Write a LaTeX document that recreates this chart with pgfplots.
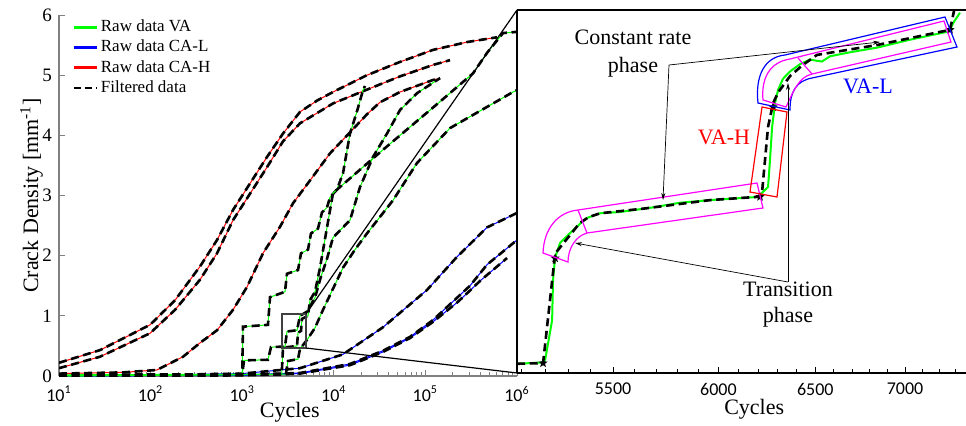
\documentclass[border=0pt]{standalone}
\usepackage{fontspec}
\setmainfont{Liberation Serif}
\newfontfamily\carlito{Carlito}
\usepackage{pgfplots}
\usepackage{pgfplotstable}
\pgfplotsset{compat=1.18}
\usetikzlibrary{arrows.meta,shapes.geometric}

\definecolor{rawgreen}{RGB}{0,255,0}
\definecolor{rawblue}{RGB}{0,0,255}
\definecolor{rawred}{RGB}{255,0,0}
\definecolor{mag}{RGB}{255,0,255}
\definecolor{axgray}{RGB}{128,128,128}

\pgfdeclareplotmark{fstar}{\node[star,star points=5,star point ratio=2.3,fill=black,draw=none,inner sep=0pt,minimum size=2.2\pgfplotmarksize]{};}

\pgfplotsset{
  raw/.style={line width=0.5pt, forget plot},
  filt/.style={black, line width=1.3pt, dash pattern=on 4pt off 2.3pt, forget plot},
}

% CA-H
\pgfplotstableread{
x y
10 0.22
28 0.43
98.5 0.85
185 1.26
346 1.82
531 2.26
794 2.76
1865 3.64
2789 4.03
4276 4.39
6600 4.58
9800 4.72
23030 5.00
52800 5.22
121060 5.42
284600 5.55
605000 5.63
}\hA
\pgfplotstableread{
x y
10 0.13
28 0.32
98.5 0.71
185 1.10
346 1.60
531 2.04
794 2.59
1865 3.47
2789 3.90
4276 4.20
9800 4.53
23030 4.76
52800 4.98
121060 5.17
185600 5.25
}\hB
\pgfplotstableread{
x y
10 0.04
50 0.06
117 0.10
226 0.32
346 0.55
531 0.76
794 1.10
1128 1.48
1687 2.04
2586 2.48
3586 2.87
5497 3.25
9089 3.70
15030 4.05
23030 4.35
31950 4.55
52800 4.72
121060 4.92
144300 4.95
}\hC
% CA-L
\pgfplotstableread{
x y
10 0.01
100 0.015
1000 0.04
4276 0.13
12602 0.36
34440 0.81
104100 1.43
221300 1.98
470600 2.47
1000000 2.71
}\lA
\pgfplotstableread{
x y
10 0.0
1000 0.02
4276 0.05
15030 0.20
34440 0.42
67900 0.65
121060 0.93
221300 1.30
306900 1.50
470600 1.85
1000000 2.26
}\lB
\pgfplotstableread{
x y
10 0.0
1000 0.01
4276 0.04
15030 0.18
34440 0.40
67900 0.63
121060 0.90
221300 1.22
306900 1.42
394700 1.58
778000 1.96
}\lC
% VA
\pgfplotstableread{
x y
10 0.02
1000 0.03
1020 0.82
1912 0.85
2012 1.31
2933 1.40
3083 1.70
4067 1.76
4385 2.04
5228 2.10
5638 2.37
6723 2.45
7433 2.72
8430 2.80
9089 2.97
10838 3.10
12602 3.37
15030 4.03
17920 4.40
20840 4.75
21910 4.82
}\vA
\pgfplotstableread{
x y
10 0.01
1000 0.02
1046 0.26
1912 0.27
2062 0.48
2933 0.49
3083 0.74
3966 0.76
4276 1.00
5099 1.07
6234 1.30
7070 1.60
8430 1.95
9800 2.30
15030 2.59
19320 3.14
26790 3.64
38090 4.03
52800 4.42
80950 4.70
144300 4.95
}\vB
\pgfplotstableread{
x y
10 0.00
2700 0.03
2789 0.47
3966 0.50
4067 0.72
4385 0.75
4496 0.95
5228 1.00
5497 1.26
6234 1.40
7070 1.80
9800 3.04
34440 3.76
144300 4.56
331000 5.03
470600 5.37
703600 5.70
1000000 5.72
}\vC
\pgfplotstableread{
x y
10 0.00
3000 0.03
3162 0.25
4067 0.28
4276 0.45
5099 0.60
6234 0.80
7622 1.10
9800 1.45
12602 1.80
17030 2.10
23030 2.37
44290 2.92
80950 3.54
185600 4.12
904300 4.72
1000000 4.75
}\vD
% zoomed VA
\pgfplotstableread{
x y
5081 0.494
5191 0.496
5200 0.500
5230 0.560
5234 0.621
5243 0.655
5264 0.677
5308 0.692
5361 0.709
5383 0.715
5441 0.722
5532 0.724
5685 0.731
5813 0.738
5959 0.742
6108 0.745
6210 0.747
6220 0.753
6251 0.762
6261 0.803
6272 0.853
6287 0.889
6303 0.909
6329 0.926
6366 0.937
6418 0.948
6472 0.955
6509 0.953
6536 0.952
6580 0.960
6689 0.966
6840 0.973
7029 0.985
7247 0.997
7265 1.000
7283 1.010
7325 1.026
}\zraw
\pgfplotstableread{
x y
5081 0.494
5191 0.495
5243 0.661
5350 0.707
5389 0.716
5441 0.722
5638 0.729
5959 0.742
6200 0.747
6220 0.753
6251 0.853
6277 0.889
6303 0.905
6366 0.930
6434 0.947
6509 0.962
6840 0.977
7265 1.000
7290 1.030
}\zfil
\pgfplotstableread{
x y
5191 0.495
5243 0.654
6210 0.747
6277 0.883
7265 1.000
}\zstar

\begin{document}
\begin{tikzpicture}
\useasboundingbox (0,0) rectangle (483pt,212.5pt);

\begin{axis}[
  name=left, at={(29.5pt,24.5pt)}, anchor=south west,
  scale only axis, width=229pt, height=180.5pt,
  xmode=log, xmin=10, xmax=1000000, ymin=0, ymax=6,
  axis x line*=bottom, axis y line*=left,
  xtick pos=bottom, ytick pos=left,
  axis line style={axgray, line width=0.7pt},
  tick style={axgray, line width=0.5pt},
  tick align=inside, major tick length=3pt, minor tick length=2pt,
  xtick={10,100,1000,10000,100000,1000000},
  xticklabels={10\textsuperscript{1},10\textsuperscript{2},10\textsuperscript{3},10\textsuperscript{4},10\textsuperscript{5},10\textsuperscript{6}},
  minor xtick={20,30,40,50,60,70,80,90,200,300,400,500,600,700,800,900,2000,3000,4000,5000,6000,7000,8000,9000,20000,30000,40000,50000,60000,70000,80000,90000,200000,300000,400000,500000,600000,700000,800000,900000},
  ytick={0,1,2,3,4,5,6},
  /pgf/number format/assume math mode=true,
  xticklabel style={font=\carlito\fontsize{9}{10}\selectfont, yshift=-1.5pt},
  yticklabel style={font=\fontsize{9.5}{10}\selectfont},
  xlabel={Cycles}, ylabel={Crack Density [mm\textsuperscript{-1}]},
  label style={font=\fontsize{11}{12}\selectfont},
  xlabel style={at={(axis description cs:0.504,-0.10)}, anchor=center},
  ylabel style={at={(axis description cs:-0.06,0.50)}, anchor=center},
  legend style={at={(axis description cs:0.015,1.005)}, anchor=north west,
    draw=none, fill=none, font=\fontsize{8.5}{9}\selectfont,
    row sep=0.3pt, nodes={inner sep=1.2pt}},
  legend cell align=left,
  legend image code/.code={\draw[#1] (0pt,0pt) -- (11.5pt,0pt);},
]
\addlegendimage{rawgreen, line width=1.6pt}
\addlegendentry{Raw data VA}
\addlegendimage{rawblue, line width=1.6pt}
\addlegendentry{Raw data CA-L}
\addlegendimage{rawred, line width=1.6pt}
\addlegendentry{Raw data CA-H}
\addlegendimage{black, line width=1.3pt, dash pattern=on 3.5pt off 2pt}
\addlegendentry{Filtered data}

\addplot[rawblue, raw] table {\lA};
\addplot[filt] table {\lA};
\addplot[rawblue, raw] table {\lB};
\addplot[filt] table {\lB};
\addplot[rawblue, raw] table {\lC};
\addplot[filt] table {\lC};

\addplot[rawred, raw] table {\hA};
\addplot[filt] table {\hA};
\addplot[rawred, raw] table {\hB};
\addplot[filt] table {\hB};
\addplot[rawred, raw] table {\hC};
\addplot[filt] table {\hC};

\addplot[rawgreen, raw] table {\vA};
\addplot[filt] table {\vA};
\addplot[rawgreen, raw] table {\vB};
\addplot[filt] table {\vB};
\addplot[rawgreen, raw] table {\vC};
\addplot[filt] table {\vC};
\addplot[rawgreen, raw] table {\vD};
\addplot[filt] table {\vD};
\end{axis}

\begin{axis}[
  name=right, at={(258.5pt,26pt)}, anchor=south west,
  scale only axis, width=224.5pt, height=181.5pt,
  xmode=log, xmin=5081, xmax=7362, ymin=0.48, ymax=1.03,
  axis x line*=box, axis y line*=left,
  xtick pos=bottom, ytick=\empty,
  axis line style={black, line width=1pt},
  tick style={black, line width=0.5pt},
  tick align=inside, major tick length=3pt, minor tick length=2pt,
  xtick={5500,6000,6500,7000},
  xticklabels={5500,6000,6500,7000},
  minor xtick={5100,5200,5300,5400,5500,5600,5700,5800,5900,6000,6100,6200,6300,6400,6500,6600,6700,6800,6900,7000,7100,7200,7300},
  xticklabel style={font=\carlito\fontsize{9}{10}\selectfont, yshift=-1.5pt},
  xlabel={Cycles},
  label style={font=\fontsize{11}{12}\selectfont},
  xlabel style={at={(axis description cs:0.528,-0.10)}, anchor=center},
]
\addplot[rawgreen, line width=1pt, forget plot] table {\zraw};
\addplot[filt] table {\zfil};
\addplot[only marks, mark=fstar, mark size=2.2pt, forget plot] table {\zstar};
\end{axis}

\begin{scope}[x=0.5pt, y=-0.5pt, yshift=212.5pt]
  % zoom window and connectors
  \draw[black!75, line width=0.7pt] (282,314) rectangle (306,348);
  \draw[black, line width=0.6pt] (306,314) -- (517,10);
  \draw[black, line width=0.6pt] (306,348) -- (517,373);

  % phase outlines
  \draw[mag, line width=0.6pt] (543,253) .. controls (544,228) and (558,212) .. (578,210)
     -- (757,183) -- (763,208) -- (587,233) .. controls (576,236) and (568,248) .. (568,262) -- cycle;
  \draw[mag, line width=0.6pt] (578,210) -- (587,233);
  \draw[rawblue, line width=0.6pt] (758,103) .. controls (755,75) and (765,57) .. (785,55)
     -- (945,17) -- (957,47) -- (812,78) .. controls (796,81) and (790,92) .. (790,110) -- cycle;
  \draw[mag, line width=0.6pt] (763,100) .. controls (761,78) and (770,62) .. (790,59)
     -- (944,21) -- (951,42) -- (812,74) .. controls (799,77) and (794,90) .. (786,107) -- cycle;
  \draw[mag, line width=0.6pt] (798,58) -- (812,74);
  \draw[rawred, line width=0.6pt] (762,107) -- (787,112) -- (777,197) -- (750,192) -- cycle;

  % annotations
  \node[align=center, font=\fontsize{11}{14}\selectfont] at (633,54) {Constant rate\\phase};
  \draw[black, line width=0.35pt, -{Stealth[length=3.5pt,width=2pt]}] (669,65) -- (880,42);
  \draw[black, line width=0.35pt, -{Stealth[length=3.5pt,width=2pt]}] (669,65) -- (663,200);
  \node[align=center, font=\fontsize{11}{13}\selectfont] at (788,305) {Transition\\phase};
  \draw[black, line width=0.35pt, -{Stealth[length=3.5pt,width=2pt]}] (788,282) -- (575,243);
  \draw[black, line width=0.35pt, -{Stealth[length=3.5pt,width=2pt]}] (788,282) -- (788,83);
  \node[rawred, font=\fontsize{11}{12}\selectfont] at (724,137) {VA-H};
  \node[rawblue, font=\fontsize{11}{12}\selectfont] at (868,86) {VA-L};
\end{scope}
\end{tikzpicture}
\end{document}
